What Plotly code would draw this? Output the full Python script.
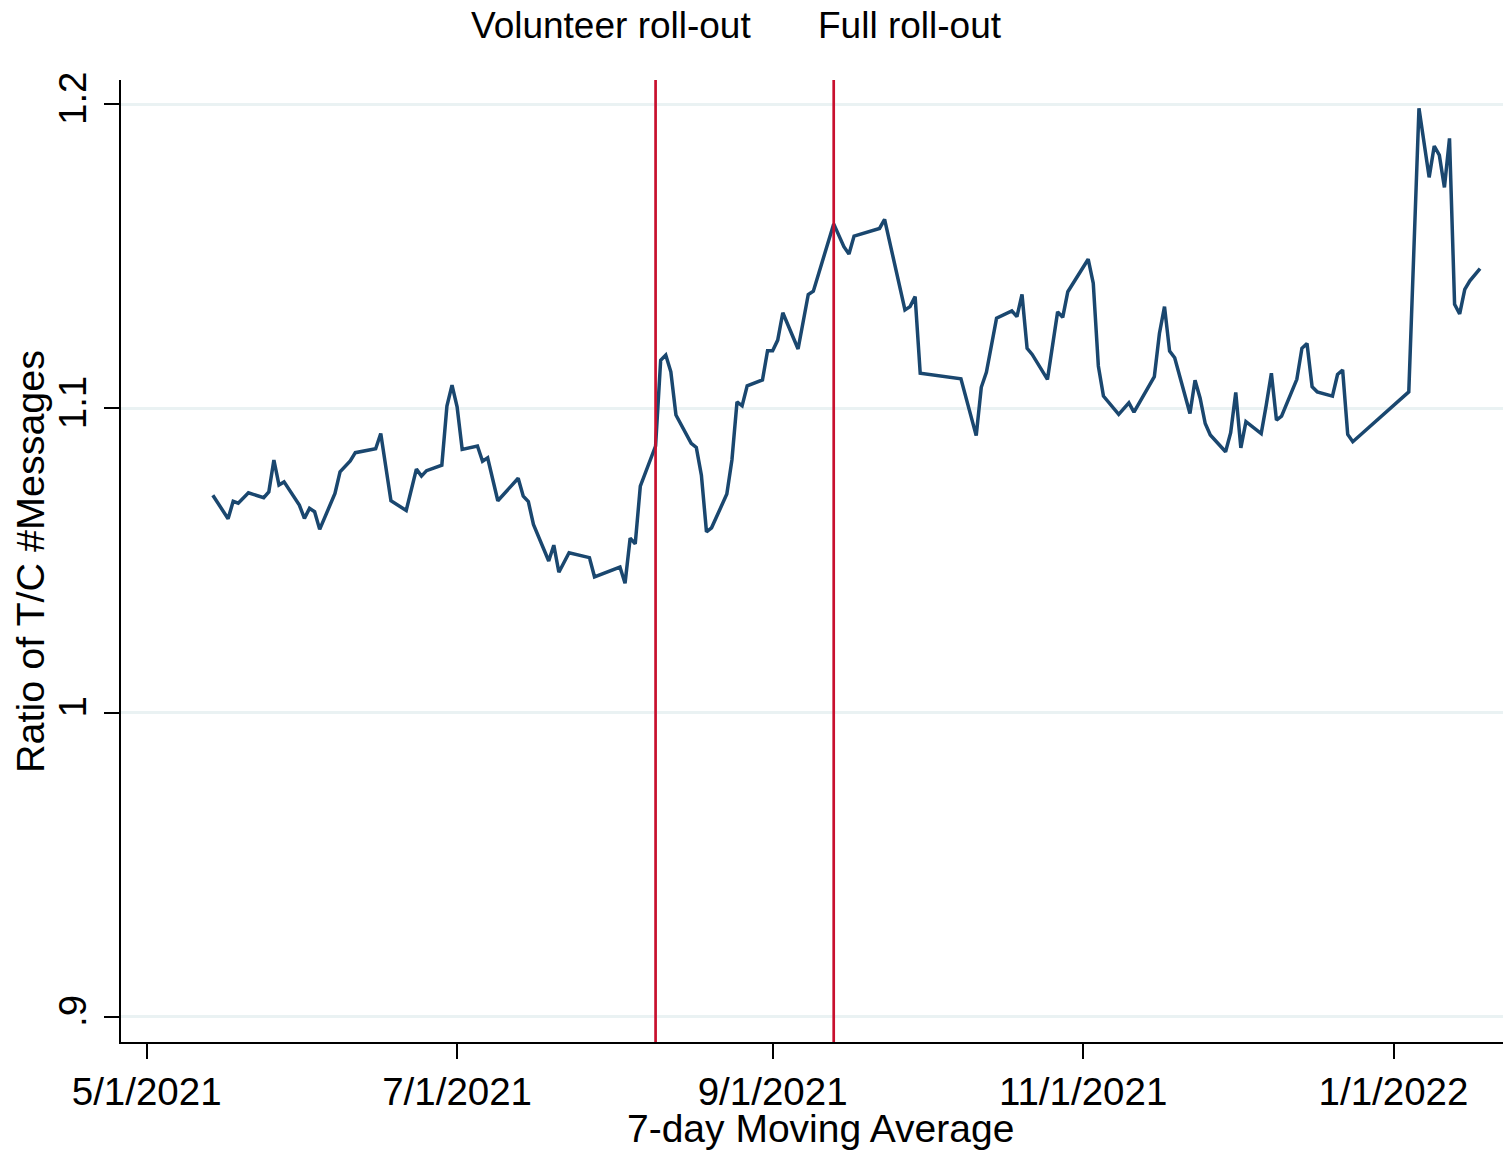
import plotly.graph_objects as go

# ---- data ----
dates = [
    # May 2021
    "2021-05-14", "2021-05-17", "2021-05-18", "2021-05-19", "2021-05-21", "2021-05-24",
    "2021-05-25", "2021-05-26", "2021-05-27", "2021-05-28", "2021-05-31",
    # Jun 2021
    "2021-06-01", "2021-06-02", "2021-06-03", "2021-06-04", "2021-06-07", "2021-06-08",
    "2021-06-10", "2021-06-11", "2021-06-15", "2021-06-16", "2021-06-18", "2021-06-21",
    "2021-06-23", "2021-06-24", "2021-06-25", "2021-06-28", "2021-06-29", "2021-06-30",
    # Jul 2021
    "2021-07-01", "2021-07-02", "2021-07-05", "2021-07-06", "2021-07-07", "2021-07-09",
    "2021-07-13", "2021-07-14", "2021-07-15", "2021-07-16", "2021-07-19", "2021-07-20",
    "2021-07-21", "2021-07-23", "2021-07-27", "2021-07-28",
    # Aug 2021
    "2021-08-02", "2021-08-03", "2021-08-04", "2021-08-05", "2021-08-06", "2021-08-09",
    "2021-08-10", "2021-08-11", "2021-08-12", "2021-08-13", "2021-08-16", "2021-08-17",
    "2021-08-18", "2021-08-19", "2021-08-20", "2021-08-23", "2021-08-24", "2021-08-25",
    "2021-08-26", "2021-08-27", "2021-08-30", "2021-08-31",
    # Sep 2021
    "2021-09-01", "2021-09-02", "2021-09-03", "2021-09-06", "2021-09-08", "2021-09-09",
    "2021-09-13", "2021-09-15", "2021-09-16", "2021-09-17", "2021-09-22", "2021-09-23",
    "2021-09-27", "2021-09-28", "2021-09-29", "2021-09-30",
    # Oct 2021
    "2021-10-08", "2021-10-11", "2021-10-12", "2021-10-13", "2021-10-15", "2021-10-18",
    "2021-10-19", "2021-10-20", "2021-10-21", "2021-10-22", "2021-10-25", "2021-10-27",
    "2021-10-28", "2021-10-29",
    # Nov 2021
    "2021-11-02", "2021-11-03", "2021-11-04", "2021-11-05", "2021-11-08", "2021-11-10",
    "2021-11-11", "2021-11-15", "2021-11-16", "2021-11-17", "2021-11-18", "2021-11-19",
    "2021-11-22", "2021-11-23", "2021-11-24", "2021-11-25", "2021-11-26", "2021-11-29",
    "2021-11-30",
    # Dec 2021
    "2021-12-01", "2021-12-02", "2021-12-03", "2021-12-06", "2021-12-07", "2021-12-08",
    "2021-12-09", "2021-12-10", "2021-12-13", "2021-12-14", "2021-12-15", "2021-12-16",
    "2021-12-17", "2021-12-20", "2021-12-21", "2021-12-22", "2021-12-23", "2021-12-24",
    # Jan 2022
    "2022-01-04", "2022-01-06", "2022-01-08", "2022-01-09", "2022-01-10", "2022-01-11",
    "2022-01-12", "2022-01-13", "2022-01-14", "2022-01-15", "2022-01-16", "2022-01-18",
]

ratio = [
    # May 2021
    1.0714, 1.0637, 1.0694, 1.0688, 1.0722, 1.0706, 1.0725, 1.0830, 1.0748, 1.0758, 1.0682,
    # Jun 2021
    1.0638, 1.0671, 1.0660, 1.0602, 1.0720, 1.0791, 1.0827, 1.0854, 1.0867, 1.0917, 1.0696,
    1.0664, 1.0800, 1.0777, 1.0795, 1.0813, 1.1007, 1.1076,
    # Jul 2021
    1.1005, 1.0865, 1.0876, 1.0826, 1.0837, 1.0696, 1.0770, 1.0711, 1.0693, 1.0618, 1.0498,
    1.0550, 1.0461, 1.0525, 1.0509, 1.0446,
    # Aug 2021
    1.0478, 1.0425, 1.0573, 1.0554, 1.0744, 1.0876, 1.1158, 1.1175, 1.1120, 1.0978, 1.0885,
    1.0871, 1.0780, 1.0594, 1.0607, 1.0718, 1.0830, 1.1021, 1.1008, 1.1074, 1.1093, 1.1189,
    # Sep 2021
    1.1189, 1.1224, 1.1314, 1.1195, 1.1374, 1.1385, 1.1606, 1.1531, 1.1507, 1.1566, 1.1591,
    1.1621, 1.1323, 1.1334, 1.1367, 1.1115,
    # Oct 2021
    1.1097, 1.0910, 1.1069, 1.1118, 1.1296, 1.1320, 1.1301, 1.1374, 1.1197, 1.1177, 1.1095,
    1.1317, 1.1299, 1.1383,
    # Nov 2021
    1.1490, 1.1411, 1.1139, 1.1040, 1.0980, 1.1018, 1.0987, 1.1104, 1.1246, 1.1334, 1.1188,
    1.1166, 1.0983, 1.1092, 1.1033, 1.0950, 1.0912, 1.0857, 1.0920,
    # Dec 2021
    1.1052, 1.0870, 1.0956, 1.0917, 1.1011, 1.1115, 1.0961, 1.0974, 1.1095, 1.1197, 1.1213,
    1.1071, 1.1054, 1.1040, 1.1111, 1.1126, 1.0914, 1.0890,
    # Jan 2022
    1.1054, 1.1986, 1.1759, 1.1862, 1.1832, 1.1726, 1.1887, 1.1342, 1.1310, 1.1391, 1.1419,
    1.1459,
]

event_dates = ["2021-08-09", "2021-09-13"]
event_labels = ["Volunteer roll-out", "Full roll-out"]
event_label_dates = ["2021-07-31 08:00", "2021-09-28 00:00"]

x_tickvals = ["2021-05-01", "2021-07-01", "2021-09-01", "2021-11-01", "2022-01-01"]
x_ticktext = ["5/1/2021", "7/1/2021", "9/1/2021", "11/1/2021", "1/1/2022"]
y_tickvals = [0.9, 1.0, 1.1, 1.2]
y_ticktext = [".9", "1", "1.1", "1.2"]

FONT = "Liberation Sans, Arial, sans-serif"
NAVY = "#1a476f"
RED = "#c8102e"
GRID = "#eaf2f3"

fig = go.Figure()
fig.add_trace(go.Scatter(
    x=dates, y=ratio, mode="lines",
    line=dict(color=NAVY, width=3.5),
    showlegend=False, hoverinfo="x+y",
))

for d in event_dates:
    fig.add_shape(type="line", xref="x", yref="paper", x0=d, x1=d, y0=0, y1=1,
                  line=dict(color=RED, width=2.7), layer="above")

for lab, d in zip(event_labels, event_label_dates):
    fig.add_annotation(text=lab, x=d, xref="x", y=1.057, yref="paper",
                       showarrow=False, xanchor="center", yanchor="middle", borderpad=0,
                       font=dict(family=FONT, size=37, color="black"))

# axis titles as annotations for precise placement
fig.add_annotation(text="7-day Moving Average", x=0.5029, xref="paper", y=-0.0894, yref="paper",
                   showarrow=False, xanchor="center", yanchor="middle",
                   font=dict(family=FONT, size=39, color="black"))
fig.add_annotation(text="Ratio of T/C #Messages", x=-0.0655, xref="paper", y=0.5, yref="paper",
                   showarrow=False, xanchor="center", yanchor="middle", textangle=-90,
                   font=dict(family=FONT, size=39.5, color="black"))

# the page body adds an 8px margin, so the figure is 8px smaller and shifted
fig.update_layout(
    width=1503, height=1143,
    margin=dict(l=113, r=0, t=72, b=109, pad=0),
    paper_bgcolor="white", plot_bgcolor="white",
    font=dict(family=FONT, color="black"),
    xaxis=dict(
        type="date",
        range=["2021-04-25 23:00", "2022-01-24 02:00"],
        tickvals=x_tickvals, ticktext=x_ticktext,
        tickfont=dict(family=FONT, size=38.5, color="black"),
        showgrid=False, zeroline=False,
        showline=True, linecolor="black", linewidth=2,
        ticks="outside", ticklen=15, tickwidth=2, tickcolor="black",
    ),
    yaxis=dict(
        range=[0.8917, 1.2079],
        tickvals=y_tickvals, ticktext=y_ticktext,
        tickangle=-90,
        tickfont=dict(family=FONT, size=38.5, color="black"),
        ticklabelstandoff=3,
        showgrid=True, gridcolor=GRID, gridwidth=3,
        zeroline=False,
        showline=True, linecolor="black", linewidth=2,
        ticks="outside", ticklen=15, tickwidth=2, tickcolor="black",
    ),
)

fig.write_html("out.html")
